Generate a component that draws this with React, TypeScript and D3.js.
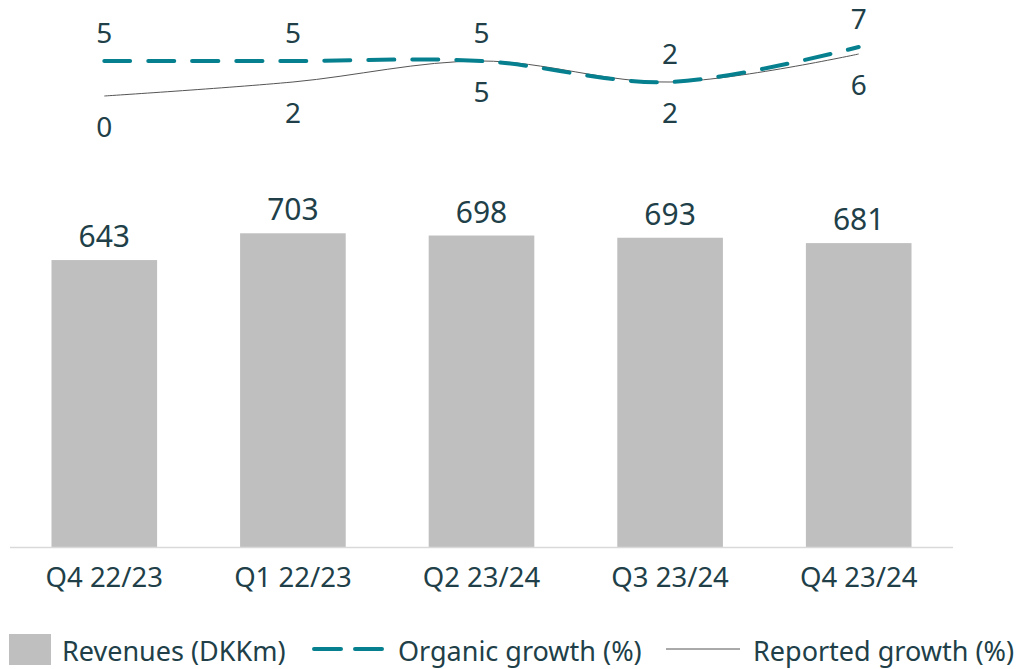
import React from 'react';
import * as d3 from 'd3';

const categories = ['Q4 22/23', 'Q1 22/23', 'Q2 23/24', 'Q3 23/24', 'Q4 23/24'];
const revenues = [643, 703, 698, 693, 681];
const organicGrowth = [5, 5, 5, 2, 7];
const reportedGrowth = [0, 2, 5, 2, 6];

const W = 1021;
const H = 669;
const TEXT = '#213f48';
const TEAL = '#06808f';
const BAR = '#bfbfbf';
const FONT = '"Noto Sans", "Open Sans", sans-serif';

export default function App() {
  const x = d3
    .scaleBand<string>()
    .domain(categories)
    .range([10, 953])
    .paddingInner(0.44)
    .paddingOuter(0.22);

  const yBar = d3.scaleLinear().domain([0, 800]).range([547, 547 - 357]);
  const yLine = d3.scaleLinear().domain([-5, 10]).range([131, 26]);

  const cx = (c: string) => (x(c) ?? 0) + x.bandwidth() / 2;

  const line = d3
    .line<number>()
    .x((_, i) => cx(categories[i]))
    .y((d) => yLine(d))
    .curve(d3.curveCatmullRom.alpha(0.5));

  return (
    <svg
      width={W}
      height={H}
      style={{ position: 'absolute', left: 0, top: 0, background: '#fff' }}
      fontFamily={FONT}
    >
      {/* bars */}
      {categories.map((c, i) => (
        <rect
          key={c}
          x={x(c)}
          y={yBar(revenues[i])}
          width={x.bandwidth()}
          height={yBar(0) - yBar(revenues[i])}
          fill={BAR}
        />
      ))}
      <line x1={10} x2={953} y1={yBar(0) + 0.5} y2={yBar(0) + 0.5} stroke="#d9d9d9" strokeWidth={1.5} />

      {categories.map((c, i) => (
        <text key={'v' + c} x={cx(c)} y={yBar(revenues[i]) - 13} textAnchor="middle" fontSize={30} fill={TEXT}>
          {revenues[i]}
        </text>
      ))}

      {categories.map((c) => (
        <text key={'c' + c} x={cx(c)} y={587} textAnchor="middle" fontSize={27.5} fill={TEXT}>
          {c}
        </text>
      ))}

      {/* lines */}
      <path d={line(reportedGrowth) ?? ''} fill="none" stroke="#555" strokeWidth={1} />
      <path
        d={line(organicGrowth) ?? ''}
        fill="none"
        stroke={TEAL}
        strokeWidth={4}
        strokeDasharray="26 18"
        strokeLinecap="round"
      />

      {categories.map((c, i) => (
        <text key={'o' + c} x={cx(c)} y={yLine(organicGrowth[i]) - 18} textAnchor="middle" fontSize={28} fill={TEXT}>
          {organicGrowth[i]}
        </text>
      ))}
      {categories.map((c, i) => (
        <text key={'r' + c} x={cx(c)} y={yLine(reportedGrowth[i]) + 41} textAnchor="middle" fontSize={28} fill={TEXT}>
          {reportedGrowth[i]}
        </text>
      ))}

      {/* legend */}
      <rect x={9} y={634} width={42} height={31} fill={BAR} />
      <text x={62} y={661} fontSize={27} fill={TEXT}>Revenues (DKKm)</text>
      <line x1={314} x2={386} y1={649} y2={649} stroke={TEAL} strokeWidth={4} strokeDasharray="27 14" strokeLinecap="round" />
      <text x={398} y={661} fontSize={27} fill={TEXT}>Organic growth (%)</text>
      <line x1={666} x2={740} y1={649} y2={649} stroke="#555" strokeWidth={1} />
      <text x={753} y={661} fontSize={27} fill={TEXT}>Reported growth (%)</text>
    </svg>
  );
}
